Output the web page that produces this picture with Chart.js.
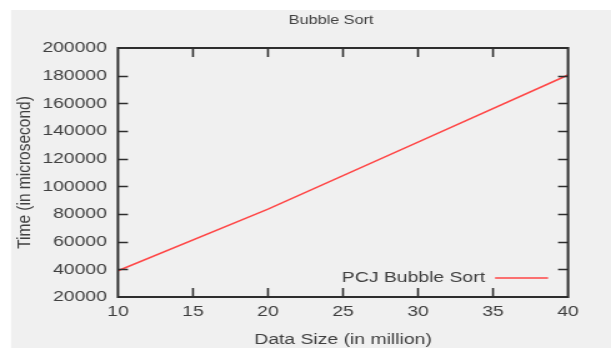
<!DOCTYPE html>
<html>
<head>
<meta charset="utf-8">
<script src="https://cdn.jsdelivr.net/npm/chart.js@4"></script>
<style>
  html, body { margin: 0; padding: 0; background: #ffffff; overflow: hidden; }
  /* the figure is drawn narrow and widened horizontally */
  #wrap { position: absolute; left: 0; top: 0; width: 489px; height: 349px;
          transform: scaleX(1.2495); transform-origin: 0 0; }
  canvas { display: block; }
</style>
</head>
<body>
<div id="wrap"><canvas id="chart" width="489" height="349"></canvas></div>
<script>
// Bubble sort timings
const dataSizes = [10, 20, 30, 40];              // million elements
const times = [39000, 83500, 132000, 180500];    // microseconds
const seriesLabel = 'PCJ Bubble Sort';
const chartTitle = 'Bubble Sort';
const xTitle = 'Data Size (in million)';
const yTitle = 'Time (in microsecond)';
const xTicks = [10, 15, 20, 25, 30, 35, 40];
const yTicks = [20000, 40000, 60000, 80000, 100000, 120000, 140000, 160000, 180000, 200000];

const FONT = 'Liberation Sans, Arial, Helvetica, sans-serif';
const TEXT = '#404040';
const FRAME = '#2e2e2e';
const PANEL = '#f0f0f0';
const LINE = '#ff4646';

const framePlugin = {
  id: 'frame',
  beforeDraw(chart) {
    const ctx = chart.ctx;
    ctx.save();
    ctx.fillStyle = PANEL;
    ctx.fillRect(8.8, 10, chart.width - 8.8, 338);
    // title
    ctx.fillStyle = TEXT;
    ctx.font = '13px ' + FONT;
    ctx.textAlign = 'center';
    ctx.textBaseline = 'middle';
    ctx.fillText(chartTitle, 265, 20);
    ctx.restore();
  },
  afterDatasetsDraw(chart) {
    const {ctx, chartArea: a, scales: {x, y}} = chart;
    ctx.save();
    ctx.strokeStyle = FRAME;
    ctx.lineWidth = 1.6;
    ctx.beginPath();
    // inward ticks on all four sides
    y.ticks.forEach(t => {
      if (t.value <= y.min || t.value >= y.max) return;
      const p = Math.round(y.getPixelForValue(t.value)) + 0.5;
      ctx.moveTo(a.left, p); ctx.lineTo(a.left + 8, p);
      ctx.moveTo(a.right, p); ctx.lineTo(a.right - 8, p);
    });
    x.ticks.forEach(t => {
      if (t.value <= x.min || t.value >= x.max) return;
      const p = x.getPixelForValue(t.value);
      ctx.moveTo(p, a.bottom); ctx.lineTo(p, a.bottom - 9);
      ctx.moveTo(p, a.top); ctx.lineTo(p, a.top + 9);
    });
    ctx.stroke();
    ctx.lineWidth = 2;
    ctx.strokeRect(a.left, a.top, a.right - a.left, a.bottom - a.top);

    // legend, lower right inside the plot
    const ds = chart.data.datasets[0];
    const ly = a.bottom - 19;
    ctx.font = '15.5px ' + FONT;
    ctx.fillStyle = TEXT;
    ctx.textAlign = 'right';
    ctx.textBaseline = 'middle';
    ctx.fillText(ds.label, a.right - 66.4, ly);
    ctx.strokeStyle = ds.borderColor;
    ctx.lineWidth = 1.6;
    ctx.beginPath();
    ctx.moveTo(a.right - 58.4, ly);
    ctx.lineTo(a.right - 16, ly);
    ctx.stroke();
    ctx.restore();
  }
};

new Chart(document.getElementById('chart'), {
  type: 'line',
  data: {
    datasets: [{
      label: seriesLabel,
      data: dataSizes.map((v, i) => ({x: v, y: times[i]})),
      borderColor: LINE,
      borderWidth: 1.5,
      pointRadius: 0,
      tension: 0,
      fill: false
    }]
  },
  options: {
    responsive: false,
    animation: false,
    events: [],
    layout: { padding: { left: 8.8, right: 34.4, top: 48, bottom: 0 } },
    plugins: { legend: { display: false }, title: { display: false }, tooltip: { enabled: false } },
    scales: {
      x: {
        type: 'linear', min: 10, max: 40,
        afterBuildTicks: s => { s.ticks = xTicks.map(v => ({value: v})); },
        grid: { display: false, drawTicks: false },
        border: { display: false },
        ticks: { padding: 5.5, color: TEXT, font: { family: FONT, size: 15.5 }, maxRotation: 0 },
        title: { display: true, text: xTitle, color: TEXT, font: { family: FONT, size: 15.5 }, padding: { top: 0, bottom: 0 } },
        afterFit: s => { s.height = 52; }
      },
      y: {
        type: 'linear', min: 20000, max: 200000,
        afterBuildTicks: s => { s.ticks = yTicks.map(v => ({value: v})); },
        grid: { display: false, drawTicks: false },
        border: { display: false },
        ticks: { padding: 8.8, color: TEXT, font: { family: FONT, size: 15.5 }, callback: v => String(v) },
        title: { display: true, text: yTitle, color: TEXT, font: { family: FONT, size: 15.5 }, padding: { top: 2, bottom: 0 } },
        afterFit: s => { s.width = 85.6; }
      }
    }
  },
  plugins: [framePlugin]
});
</script>
</body>
</html>
